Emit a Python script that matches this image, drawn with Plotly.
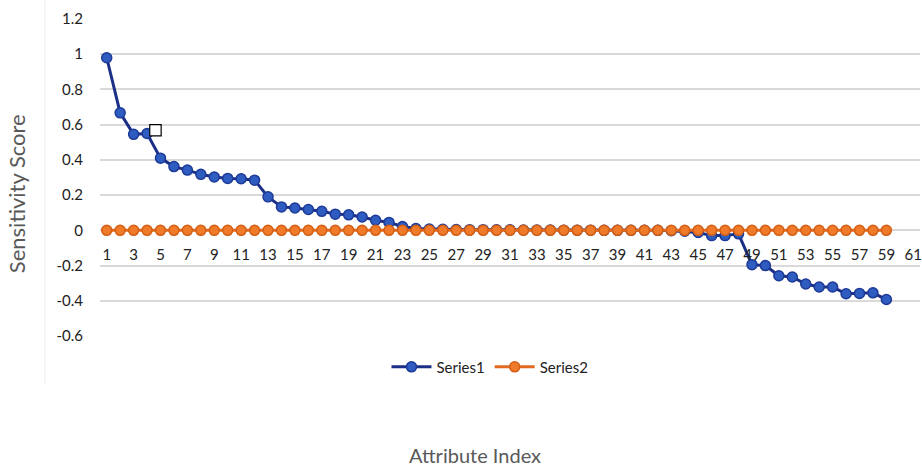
import plotly.graph_objects as go

attribute_index = list(range(1, 60))
series1 = [0.98, 0.667, 0.545, 0.55, 0.41, 0.362, 0.342, 0.318, 0.303, 0.295,
           0.293, 0.285, 0.19, 0.133, 0.127, 0.118, 0.108, 0.092, 0.088, 0.076,
           0.057, 0.045, 0.022, 0.01, 0.007, 0.006, 0.005, 0.004, 0.004, 0.003,
           0.003, 0.002, 0.002, 0.002, 0.001, 0.001, 0.001, 0.0, 0.0, 0.0,
           0.0, 0.0, -0.002, -0.005, -0.012, -0.03, -0.03, -0.02, -0.195,
           -0.2, -0.258, -0.265, -0.305, -0.322, -0.322, -0.36, -0.358, -0.355, -0.393]
series2 = [0.0] * 59
x_ticks = list(range(1, 62, 2))
y_ticks = [1.2, 1, 0.8, 0.6, 0.4, 0.2, 0, -0.2, -0.4, -0.6]
y_ticktext = ["1.2", "1", "0.8", "0.6", "0.4", "0.2", "0", "-0.2", "-0.4", "-0.6"]

FONT = "Lato, 'Open Sans', sans-serif"

fig = go.Figure()
fig.add_trace(go.Scatter(
    x=attribute_index, y=series1, name="Series1", mode="lines+markers",
    line=dict(color="#1c2f86", width=3),
    marker=dict(size=10, color="#2f5cc0", line=dict(color="#1c3a96", width=1.5)),
))
fig.add_trace(go.Scatter(
    x=attribute_index, y=series2, name="Series2", mode="lines+markers",
    line=dict(color="#e06a1f", width=3),
    marker=dict(size=10, color="#ef7a2a", line=dict(color="#d45f14", width=1.5)),
))

fig.update_layout(
    width=922, height=468,
    margin=dict(l=100, r=2, t=19, b=132, autoexpand=False),
    paper_bgcolor="white", plot_bgcolor="white",
    font=dict(family=FONT, color="#333333", size=13),
    showlegend=True,
    legend=dict(orientation="h", x=0.4756, xanchor="center", y=-0.098, yanchor="middle",
                font=dict(family=FONT, size=15, color="#222222"),
                itemwidth=40, tracegroupgap=0),
    xaxis=dict(range=[0.5, 61.5], tickmode="array", tickvals=x_ticks,
               ticktext=[str(v) for v in x_ticks], automargin=False,
               showgrid=False, zeroline=False, showline=False,
               anchor="free", position=0.6 / 1.8, ticks="",
               ticklabelstandoff=14, ticklabeloverflow="allow",
               tickfont=dict(family=FONT, size=15, color="#222222")),
    yaxis=dict(range=[-0.6, 1.2], tickmode="array", tickvals=y_ticks, ticktext=y_ticktext,
               showgrid=True, gridcolor="#d9d9d9", gridwidth=1.5, automargin=False,
               zeroline=False, showline=False, ticks="",
               ticklabelstandoff=16,
               tickfont=dict(family=FONT, size=15, color="#222222")),
    annotations=[
        dict(text="Sensitivity Score", xref="paper", yref="paper",
             x=-0.101, y=0.448, xanchor="center", yanchor="middle", textangle=-90,
             showarrow=False, font=dict(family=FONT, size=22, color="#595959")),
        dict(text="Attribute Index", xref="paper", yref="paper",
             x=0.457, y=-0.376, xanchor="center", yanchor="middle",
             showarrow=False, font=dict(family=FONT, size=20, color="#595959")),
    ],
    shapes=[
        dict(type="line", xref="paper", yref="paper", x0=-0.067, x1=-0.067,
             y0=-0.15, y1=1.06, line=dict(color="#ececec", width=1)),
        dict(type="rect", xref="x", yref="y", x0=4.2, x1=5.05, y0=0.536, y1=0.6,
             line=dict(color="black", width=1.2), fillcolor="white"),
    ],
)

fig.write_html(
    "out.html",
    config={"displayModeBar": False},
    post_script="document.body.style.margin='0';document.body.style.overflow='hidden';",
)
